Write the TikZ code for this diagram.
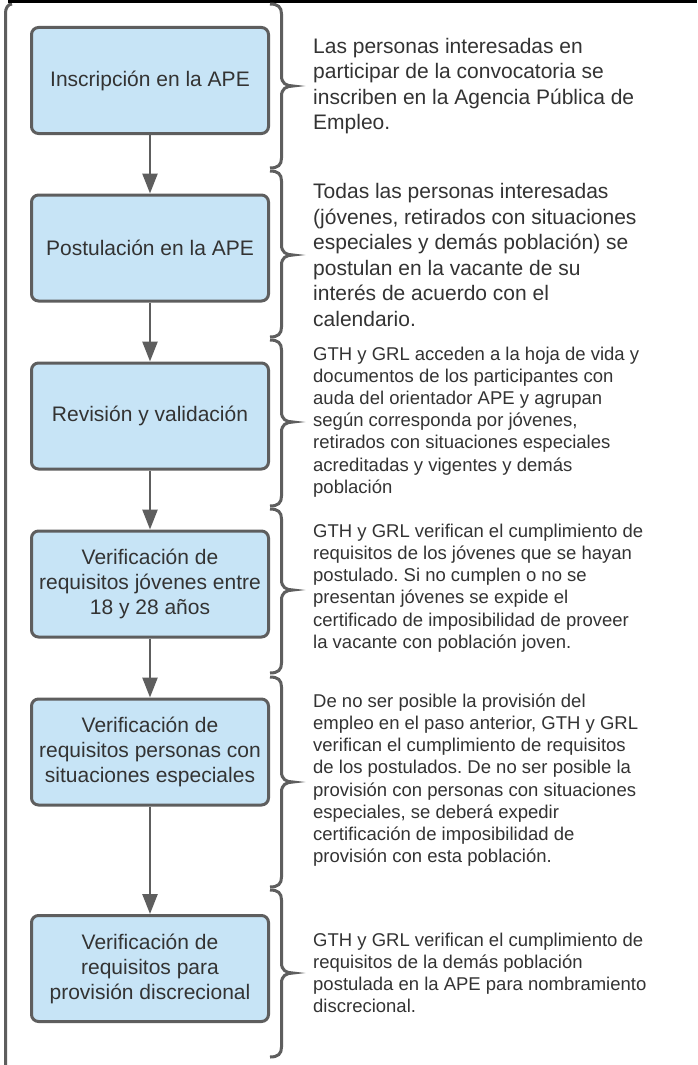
\documentclass[tikz,border=0pt]{standalone}
\usepackage{fontspec}
\setmainfont{Liberation Sans}
\usetikzlibrary{arrows.meta}
\definecolor{boxfill}{RGB}{199,228,246}
\definecolor{edgegray}{RGB}{94,94,94}
\definecolor{txt}{RGB}{51,51,51}
\newcommand{\mybrace}[3]{%
 \draw[bracket] (270,#1) .. controls (278,#1) and (281.5,#1+3) .. (281.5,#1+10)
   -- (281.5,#2-10) .. controls (281.5,#2-3) and (286,#2) .. (293,#2)
   .. controls (286,#2) and (281.5,#2+3) .. (281.5,#2+10)
   -- (281.5,#3-10) .. controls (281.5,#3-3) and (278,#3) .. (270,#3);}
\begin{document}
\frenchspacing
\begin{tikzpicture}[x=1pt,y=-1pt,
  stepbox/.style={draw=edgegray, line width=3pt, fill=boxfill, rounded corners=7pt,
    minimum width=237pt, minimum height=106pt, align=center, text=txt,
    font=\fontsize{21}{25}\selectfont, inner sep=0pt},
  bigdesc/.style={anchor=west, align=left, inner sep=0pt, text=txt,
    font=\fontsize{21}{25.5}\selectfont},
  smalldesc/.style={anchor=west, align=left, inner sep=0pt, text=txt,
    font=\fontsize{18.5}{22.2}\selectfont},
  flow/.style={draw=edgegray, line width=2.5pt, -{Triangle[length=20pt,width=15pt]}},
  bracket/.style={draw=edgegray, line width=3pt},
]
\useasboundingbox (0,0) rectangle (697,1065);
\fill[white] (0,0) rectangle (697,1065);

% frame lines
\draw[edgegray, line width=3pt] (5.5,1065) -- (5.5,13) to[out=90,in=180] (12,4);
\draw[black, line width=3.5pt] (8,1.75) -- (697,1.75);

% steps
\node[stepbox] (b1) at (150,80.5) {Inscripción en la APE};
\node[stepbox] (b2) at (150,248) {Postulación en la APE};
\node[stepbox] (b3) at (150,416) {Revisión y validación};
\node[stepbox] (b4) at (150,584) {Verificación de\\requisitos jóvenes entre\\18 y 28 años};
\node[stepbox] (b5) at (150,752) {Verificación de\\requisitos personas con\\situaciones especiales};
\node[stepbox] (b6) at (150,968.5) {Verificación de\\requisitos para\\provisión discrecional};

\draw[flow] (b1) -- (b2);
\draw[flow] (b2) -- (b3);
\draw[flow] (b3) -- (b4);
\draw[flow] (b4) -- (b5);
\draw[flow] (b5) -- (b6);

% braces
\mybrace{4}{86}{168}
\mybrace{171}{255}{337}
\mybrace{340}{422}{506}
\mybrace{509}{590}{673}
\mybrace{677}{782}{887}
\mybrace{890}{973}{1057}

% descriptions
\node[bigdesc] (t1) at (313,86) {Las personas interesadas en\\participar de la convocatoria se\\inscriben en la Agencia Pública de\\Empleo.};
\node[bigdesc] (t2) at (313,255) {Todas las personas interesadas\\(jóvenes, retirados con situaciones\\especiales y demás población) se\\postulan en la vacante de su\\interés de acuerdo con el\\calendario.};
\node[smalldesc] (t3) at (313,422) {GTH y GRL acceden a la hoja de vida y\\documentos de los participantes con\\auda del orientador APE y agrupan\\según corresponda por jóvenes,\\retirados con situaciones especiales\\acreditadas y vigentes y demás\\población};
\node[smalldesc] (t4) at (313,588) {GTH y GRL verifican el cumplimiento de\\requisitos de los jóvenes que se hayan\\postulado. Si no cumplen o no se\\presentan jóvenes se expide el\\certificado de imposibilidad de proveer\\la vacante con población joven.};
\node[smalldesc] (t5) at (313,780) {De no ser posible la provisión del\\empleo en el paso anterior, GTH y GRL\\verifican el cumplimiento de requisitos\\de los postulados. De no ser posible la\\provisión con personas con situaciones\\especiales, se deberá expedir\\certificación de imposibilidad de\\provisión con esta población.};
\node[smalldesc] (t6) at (313,973) {GTH y GRL verifican el cumplimiento de\\requisitos de la demás población\\postulada en la APE para nombramiento\\discrecional.};
\end{tikzpicture}
\end{document}
